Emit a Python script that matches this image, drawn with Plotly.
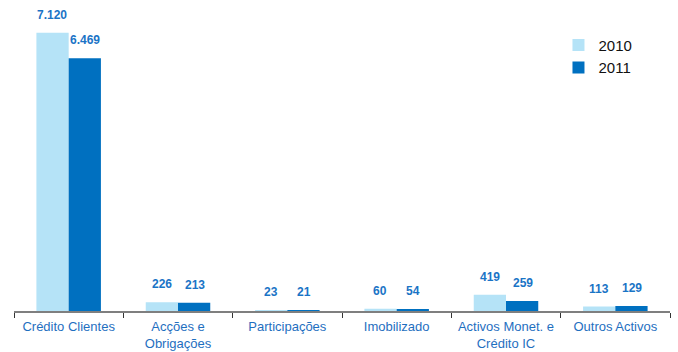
import plotly.graph_objects as go

categories = ["Crédito Clientes", "Acções e<br>Obrigações", "Participações",
              "Imobilizado", "Activos Monet. e<br>Crédito IC", "Outros Activos"]
values_2010 = [7120, 226, 23, 60, 419, 113]
values_2011 = [6469, 213, 21, 54, 259, 129]

series = [("2010", values_2010, "#b5e3f7", -16.5),
          ("2011", values_2011, "#0070c0", 16.5)]


def fmt(v):
    return f"{v:,}".replace(",", ".")


fig = go.Figure()
annotations = []
for name, vals, color, dx in series:
    fig.add_trace(go.Bar(
        name=name, x=categories, y=vals,
        marker=dict(color=color, line=dict(width=0)),
    ))
    # value labels floating above each bar
    for cat, v in zip(categories, vals):
        annotations.append(dict(
            x=cat, y=v, xref="x", yref="y", xshift=dx, yshift=9,
            yanchor="bottom", showarrow=False,
            text="<b>" + fmt(v) + "</b>",
            font=dict(family="Liberation Sans, Arial", size=12, color="#1a74c6"),
        ))

fig.update_layout(
    width=678, height=352,
    margin=dict(l=14, r=8, t=14, b=41),
    paper_bgcolor="white", plot_bgcolor="white",
    barmode="group", bargap=0.41, bargroupgap=0,
    font=dict(family="Liberation Sans, Arial", size=13, color="#1f6fbf"),
    legend=dict(x=0.83, y=0.95, xanchor="left", yanchor="top",
                font=dict(size=15, color="#111111"),
                bgcolor="rgba(0,0,0,0)", itemwidth=30),
    annotations=annotations,
    showlegend=True,
)
fig.update_xaxes(
    showline=True, linecolor="#7f7f7f", linewidth=1.5,
    ticks="outside", tickson="boundaries", ticklen=5, tickcolor="#333333",
    tickfont=dict(size=13, color="#1f6fbf"), ticklabelstandoff=3,
    automargin=False, showgrid=False,
)
fig.update_yaxes(range=[0, 7600], visible=False, showgrid=False,
                 automargin=False)

fig.write_html("out.html")
